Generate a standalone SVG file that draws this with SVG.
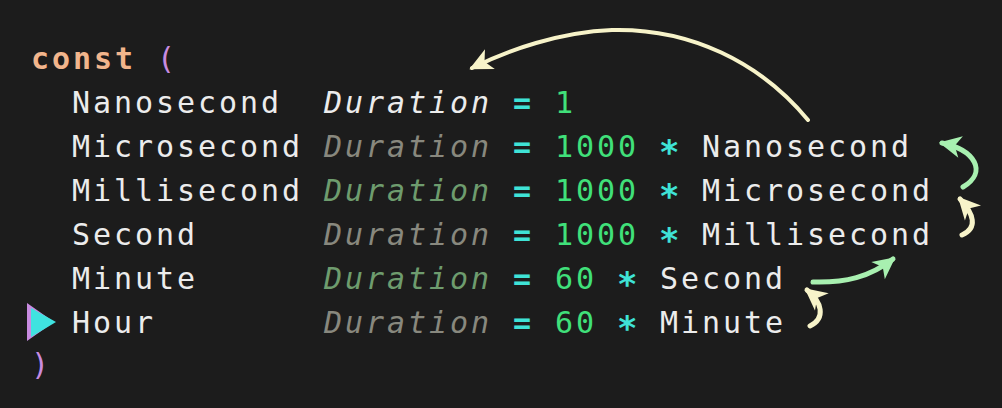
<svg xmlns="http://www.w3.org/2000/svg" width="1002" height="408" viewBox="0 0 1002 408">
<style>
  text { font-family: "DejaVu Sans Mono", "Liberation Mono", monospace; font-size: 30px; letter-spacing: 2.94px; }
  .kw { fill: #f2b58c; font-weight: bold; }
  .par { fill: #c88be0; }
  .id { fill: #ececec; }
  .ty { font-style: italic; }
  .tw { fill: #ececec; }
  .tg { fill: #88887e; }
  .tn { fill: #6e9c6e; }
  .op { fill: #3fe3d6; font-weight: bold; }
  .star { fill: #3fe3d6; font-weight: bold; font-size: 34px; }
  .num { fill: #40e07a; }
  .cream { fill: none; stroke: #f7f3c9; stroke-linecap: round; }
  .green { fill: none; stroke: #a8f0b0; stroke-linecap: round; }
</style>
<defs>
  <marker id="hc" markerUnits="userSpaceOnUse" viewBox="-26 -14 30 28" refX="0" refY="0" markerWidth="30" markerHeight="28" orient="auto">
    <path d="M-20,-11 L3,0 L-20,11 L-14,0 Z" fill="#f7f3c9"/>
  </marker>
  <marker id="hcs" markerUnits="userSpaceOnUse" viewBox="-26 -14 30 28" refX="0" refY="0" markerWidth="30" markerHeight="28" orient="auto">
    <path d="M-19,-11 L3,0 L-19,11 L-13,0 Z" fill="#f7f3c9"/>
  </marker>
  <marker id="hgs" markerUnits="userSpaceOnUse" viewBox="-26 -14 30 28" refX="0" refY="0" markerWidth="30" markerHeight="28" orient="auto">
    <path d="M-19,-11 L3,0 L-19,11 L-13,0 Z" fill="#a8f0b0"/>
  </marker>
</defs>
<rect x="0" y="0" width="1002" height="408" fill="#1c1c1c"/>

<g id="const-open">
  <text x="31" y="69" class="kw">const</text>
  <text x="157" y="69" class="par">(</text>
</g>

<g id="nanosecond">
  <text x="72" y="113" class="id">Nanosecond</text>
  <text x="324" y="113" class="ty tw">Duration</text>
  <text x="513" y="113" class="op">=</text>
  <text x="555" y="113" class="num">1</text>
</g>

<g id="microsecond">
  <text x="72" y="157" class="id">Microsecond</text>
  <text x="324" y="157" class="ty tg">Duration</text>
  <text x="513" y="157" class="op">=</text>
  <text x="555" y="157" class="num">1000</text>
  <text x="659" y="164" class="star">*</text>
  <text x="702" y="157" class="id">Nanosecond</text>
</g>

<g id="millisecond">
  <text x="72" y="201" class="id">Millisecond</text>
  <text x="324" y="201" class="ty tn">Duration</text>
  <text x="513" y="201" class="op">=</text>
  <text x="555" y="201" class="num">1000</text>
  <text x="659" y="208" class="star">*</text>
  <text x="702" y="201" class="id">Microsecond</text>
</g>

<g id="second">
  <text x="72" y="245" class="id">Second</text>
  <text x="324" y="245" class="ty tg">Duration</text>
  <text x="513" y="245" class="op">=</text>
  <text x="555" y="245" class="num">1000</text>
  <text x="659" y="252" class="star">*</text>
  <text x="702" y="245" class="id">Millisecond</text>
</g>

<g id="minute">
  <text x="72" y="289" class="id">Minute</text>
  <text x="324" y="289" class="ty tn">Duration</text>
  <text x="513" y="289" class="op">=</text>
  <text x="555" y="289" class="num">60</text>
  <text x="617" y="296" class="star">*</text>
  <text x="660" y="289" class="id">Second</text>
</g>

<g id="hour">
  <polygon points="27,303 27,341 54,322" fill="#c88be0"/>
  <polygon points="31,308 31,337 56,322" fill="#3fe3e0"/>
  <text x="72" y="333" class="id">Hour</text>
  <text x="324" y="333" class="ty tg">Duration</text>
  <text x="513" y="333" class="op">=</text>
  <text x="555" y="333" class="num">60</text>
  <text x="617" y="340" class="star">*</text>
  <text x="660" y="333" class="id">Minute</text>
</g>

<g id="close">
  <text x="31" y="375" class="par">)</text>
</g>

<g id="connectors">
  <path class="cream" stroke-width="4" d="M808,120 C760,62 690,28 612,30 C560,32 508,50 472,68" marker-end="url(#hc)"/>
  <path class="green" stroke-width="5" d="M963,187 C988,172 975,150 942,143" marker-end="url(#hgs)"/>
  <path class="cream" stroke-width="5" d="M962,235 C978,228 974,214 960,199" marker-end="url(#hcs)"/>
  <path class="green" stroke-width="5" d="M813,282 C845,283 870,277 893,259" marker-end="url(#hgs)"/>
  <path class="cream" stroke-width="5" d="M810,326 C826,318 822,302 807,290" marker-end="url(#hcs)"/>
</g>
</svg>
